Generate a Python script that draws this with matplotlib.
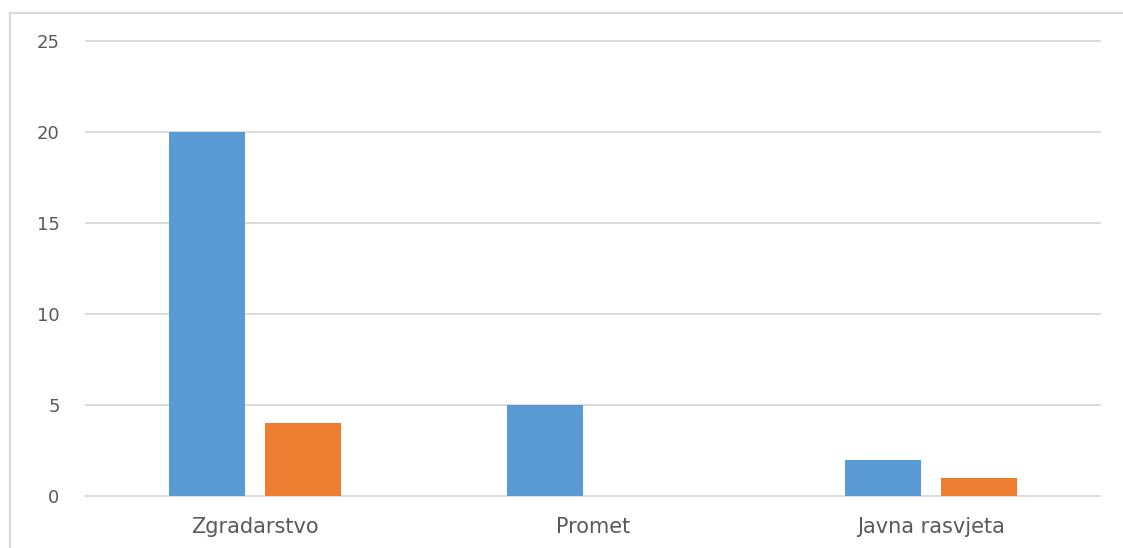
import numpy as np
import matplotlib
matplotlib.use('Agg')
import matplotlib.pyplot as plt
from matplotlib.lines import Line2D

categories = ['Zgradarstvo', 'Promet', 'Javna rasvjeta']
series_blue = [20, 5, 2]
series_orange = [4, 0, 1]
y_ticks = [0, 5, 10, 15, 20, 25]

plt.rcParams['font.family'] = ['DejaVu Sans']

fig = plt.figure(figsize=(11.23, 5.48), dpi=100)
ax = fig.add_axes([86 / 1123, 1 - 496 / 548, (1100 - 86) / 1123, (496 - 41) / 548])

x = np.arange(len(categories))
width = 0.225
offset = 0.1425
ax.bar(x - offset, series_blue, width, color='#5B9BD5', zorder=3)
ax.bar(x + offset, series_orange, width, color='#ED7D31', zorder=3)

ax.set_xlim(-0.5, 2.5)
ax.set_ylim(0, 25)
ax.set_yticks(y_ticks)
ax.set_xticks(x)
ax.set_xticklabels(categories)
ax.yaxis.grid(True, color='#D9D9D9', linewidth=1.3, zorder=0)
ax.set_axisbelow(True)
# keep top and bottom gridlines full thickness
for gl in ax.get_ygridlines():
    gl.set_clip_on(False)
for s in ax.spines.values():
    s.set_visible(False)
ax.tick_params(axis='both', length=0, colors='#595959')
ax.tick_params(axis='y', pad=19, labelsize=13)
ax.tick_params(axis='x', pad=15, labelsize=15)

# outer chart border (only top and left visible in the crop)
fig.add_artist(Line2D([10 / 1123, 10 / 1123], [0, 1 - 13 / 548], transform=fig.transFigure,
                      color='#D9D9D9', linewidth=1.5))
fig.add_artist(Line2D([10 / 1123, 1], [1 - 13 / 548, 1 - 13 / 548], transform=fig.transFigure,
                      color='#D9D9D9', linewidth=1.5))

fig.savefig('out.png', dpi=100)
